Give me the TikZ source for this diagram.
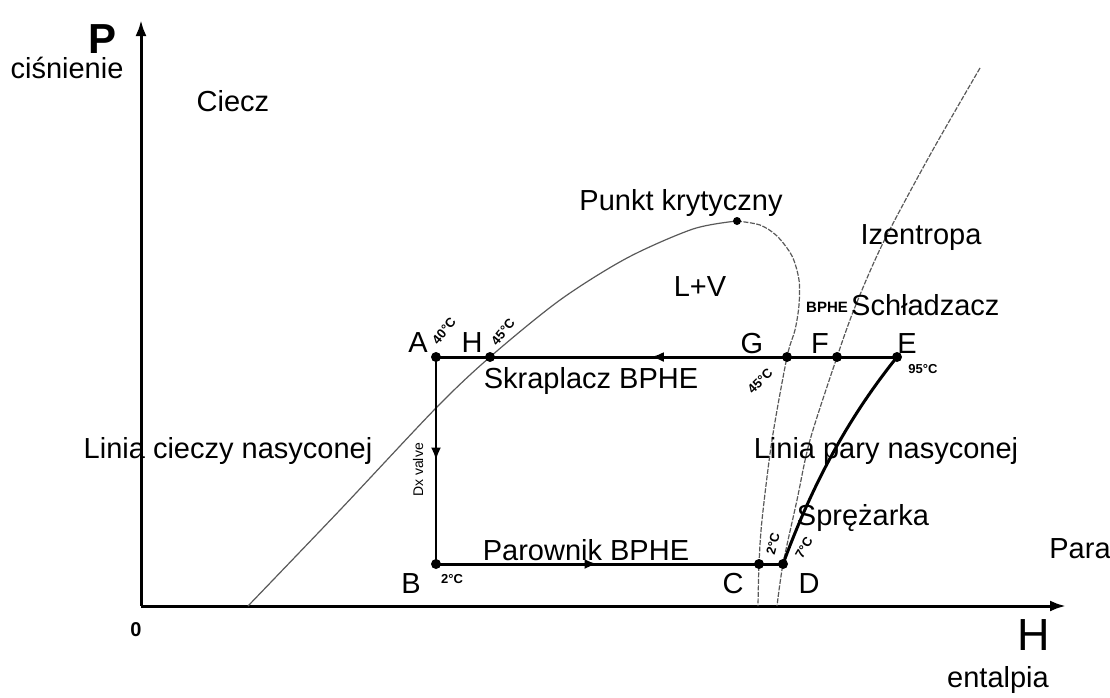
\documentclass[tikz,border=0pt]{standalone}
\usepackage{fontspec}
\setmainfont{Liberation Sans}
\usetikzlibrary{arrows.meta,decorations.markings}
\begin{document}
\begin{tikzpicture}[x=1pt,y=-1pt,
 lbl/.style={font=\fontsize{29}{34}\selectfont, inner sep=0pt},
 tmp/.style={font=\bfseries\fontsize{13}{15}\selectfont, inner sep=0pt},
 dot/.style={circle, fill=black, inner sep=0pt, minimum size=10pt},
 axisline/.style={line width=3pt, -{Latex[length=16pt,width=11pt]}},
 flow/.style={line width=3pt},
 dome/.style={line width=1.2pt, gray!70!black},
 domedash/.style={line width=1.2pt, gray!70!black, dash pattern=on 5pt off 1.5pt},
 midarrow/.style={postaction={decorate}, decoration={markings, mark=at position #1 with {\arrow{Latex[length=13pt,width=10pt]}}}},
]
\useasboundingbox (0,0) rectangle (1110,697);

% axes
\coordinate (O) at (141,606);
\coordinate (Ptip) at (141,20);
\coordinate (Htip) at (1066,606);
\draw[axisline] (O) -- (Ptip);
\draw[axisline] (O) -- (Htip);

% saturation dome
\draw[dome] plot[smooth] coordinates {(248,606) (340,510) (436,408) (490,357) (560,300) (627,258) (693,229) (737,221)};
\draw[domedash] plot[smooth] coordinates {(737,221) (760,225) (777,236) (792,256) (799,280) (799,305) (795,330) (787,357) (772,440) (762,520) (759,564) (758,606)};
% isentrope
\draw[domedash] plot[smooth] coordinates {(980,68) (930,155) (883,243) (855,307) (837,357) (810,440) (797,500) (783,564) (777,606)};

% cycle points
\node[dot] (A) at (436,357) {};
\node[dot] (H) at (490,357) {};
\node[dot] (G) at (787,357) {};
\node[dot] (F) at (837,357) {};
\node[dot] (E) at (897,357) {};
\node[dot] (B) at (436,564) {};
\node[dot] (C) at (759,564) {};
\node[dot] (D) at (783,564) {};
\node[circle, fill=black, inner sep=0pt, minimum size=8pt] (K) at (737,221) {};

% cycle lines
\draw[flow, midarrow=0.534] (E.center) -- (A.center);
\draw[line width=2.5pt, midarrow=0.5] (A.center) -- (B.center);
\draw[flow, midarrow=0.5] (B.center) -- (C.center);
\draw[flow] (C.center) -- (D.center);
\draw[flow] (D.center) .. controls (812,485) and (848,418) .. (E.center);

% point letters
\node[lbl] (lA) at (418,343) {A};
\node[lbl] (lH) at (472,343) {H};
\node[lbl] (lG) at (752,344) {G};
\node[lbl] (lF) at (820,344) {F};
\node[lbl] (lE) at (907,344) {E};
\node[lbl] (lB) at (411,584) {B};
\node[lbl] (lC) at (733,584) {C};
\node[lbl] (lD) at (809,584) {D};

% temperatures
\node[tmp, rotate=50] (tA) at (444,331) {40°C};
\node[tmp, rotate=50] (tH) at (503,332) {45°C};
\node[tmp, rotate=45] (tG) at (760,381) {45°C};
\node[tmp] (tE) at (923,369) {95°C};
\node[tmp] (tB) at (452,579) {2°C};
\node[tmp, rotate=75] (tC) at (773,544) {2°C};
\node[tmp, rotate=60] (tD) at (804,548) {7°C};
\node[font=\fontsize{14}{16}\selectfont, inner sep=0pt, rotate=90] (dx) at (418,470) {Dx valve};

% axis labels
\node[font=\bfseries\fontsize{42}{46}\selectfont, inner sep=0pt] (Plab) at (103,39) {P};
\node[lbl] (cis) at (67,68) {ciśnienie};
\node[font=\fontsize{45}{50}\selectfont, inner sep=0pt] (Hlab) at (1034,635) {H};
\node[lbl] (ent) at (998,680) {entalpia};
\node[font=\bfseries\fontsize{20}{22}\selectfont, inner sep=0pt] (zero) at (136,630) {0};

% region labels
\node[lbl] (ciecz) at (233,101) {Ciecz};
\node[lbl] (punkt) at (681,203) {Punkt krytyczny};
\node[lbl] (izen) at (921,238) {Izentropa};
\node[lbl] (lv) at (700,287) {L+V};
\node[font=\bfseries\fontsize{15}{17}\selectfont, inner sep=0pt] (bphe) at (827,307) {BPHE};
\node[lbl, anchor=west] (schl) at (851,305) {Schładzacz};
\node[lbl] (skr) at (591,381) {Skraplacz BPHE};
\node[lbl] (lcn) at (228,451) {Linia cieczy nasyconej};
\node[lbl] (lpn) at (886,451) {Linia pary nasyconej};
\node[lbl] (spr) at (863,518) {Sprężarka};
\node[lbl] (par) at (586,550) {Parownik BPHE};
\node[lbl] (para) at (1080,549) {Para};
\end{tikzpicture}
\end{document}
